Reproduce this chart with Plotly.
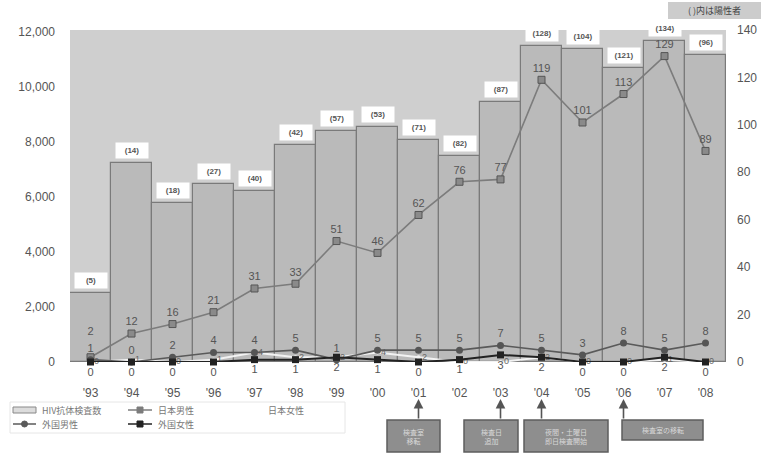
import plotly.graph_objects as go

# ---- data ----
years = ["'93", "'94", "'95", "'96", "'97", "'98", "'99", "'00",
         "'01", "'02", "'03", "'04", "'05", "'06", "'07", "'08"]
tests = [2500, 7240, 5780, 6470, 6220, 7890, 8400, 8550,
         8070, 7490, 9450, 11490, 11380, 10690, 11670, 11160]
positives = [5, 14, 18, 27, 40, 42, 57, 53, 71, 82, 87, 128, 104, 121, 134, 96]
jp_male = [2, 12, 16, 21, 31, 33, 51, 46, 62, 76, 77, 119, 101, 113, 129, 89]
jp_female = [0, 1, 0, 1, 4, 2, 2, 4, 2, 0, 0, 2, 0, 0, 1, 0]
fr_male = [1, 0, 2, 4, 4, 5, 1, 5, 5, 5, 7, 5, 3, 8, 5, 8]
fr_female = [0, 0, 0, 0, 1, 1, 2, 1, 0, 1, 3, 2, 0, 0, 2, 0]
left_ticks = [0, 2000, 4000, 6000, 8000, 10000, 12000]
right_ticks = [0, 20, 40, 60, 80, 100, 120, 140]
events = [("'01", "検査室<br>移転"), ("'03", "検査日<br>追加"),
          ("'04", "夜間・土曜日<br>即日検査開始"), ("'06", "検査室の移転")]

W, H = 762, 454
ML, MR, MT, MB = 70, 36, 30, 92
PW, PH = W - ML - MR, H - MT - MB
FONT = "Liberation Sans, Arial, sans-serif"
JFONT = "Noto Sans CJK JP, sans-serif"


def px(x):
    return (x - ML) / PW


def py(y):
    return (H - MB - y) / PH


fig = go.Figure()

fig.add_trace(go.Bar(
    x=years, y=tests, name="HIV抗体検査数",
    marker=dict(color="#bababa", line=dict(color="#7a7a7a", width=1.2)),
    showlegend=False,
))

# number-of-positives boxes above bars
for yr, t, p in zip(years, tests, positives):
    fig.add_annotation(
        x=yr, y=t, xref="x", yref="y", text=f"<b>({p})</b>", showarrow=False,
        yanchor="bottom", yshift=4, bgcolor="white", borderpad=3,
        width=26, font=dict(family=FONT, size=8, color="#555"),
    )

# Japanese-male labels; the first one is lifted a line so it clears the
# foreign-male label right under it
jm_text = [str(v) for v in jp_male]
jm_text[0] = jm_text[0] + "<br> "
fig.add_trace(go.Scatter(
    x=years, y=jp_male, yaxis="y2", mode="lines+markers+text",
    text=jm_text, textposition="top center",
    textfont=dict(family=FONT, size=11, color="#555"),
    line=dict(color="#7c7c7c", width=1.6),
    marker=dict(symbol="square", size=7, color="#8a8a8a",
                line=dict(color="#555", width=1)),
    cliponaxis=False, showlegend=False,
))

fig.add_trace(go.Scatter(
    x=years, y=jp_female, yaxis="y2", mode="lines+markers+text",
    text=[str(v) for v in jp_female], textposition="middle right",
    textfont=dict(family=FONT, size=9, color="#666"),
    line=dict(color="#f2f2f2", width=2),
    marker=dict(symbol="circle", size=4, color="#f2f2f2"),
    cliponaxis=False, showlegend=False,
))

fig.add_trace(go.Scatter(
    x=years, y=fr_male, yaxis="y2", mode="lines+markers+text",
    text=[str(v) for v in fr_male], textposition="top center",
    textfont=dict(family=FONT, size=11, color="#555"),
    line=dict(color="#5a5a5a", width=1.6),
    marker=dict(symbol="circle", size=7, color="#555"),
    cliponaxis=False, showlegend=False,
))

fig.add_trace(go.Scatter(
    x=years, y=fr_female, yaxis="y2", mode="lines+markers+text",
    text=[str(v) for v in fr_female], textposition="bottom center",
    textfont=dict(family=FONT, size=11, color="#555"),
    line=dict(color="#222", width=2),
    marker=dict(symbol="square", size=7, color="#222"),
    cliponaxis=False, showlegend=False,
))

shapes = []
annots = []

# legend
shapes.append(dict(type="rect", xref="paper", yref="paper",
                   x0=px(10), x1=px(345), y0=py(433), y1=py(402),
                   line=dict(color="#e6e6e6", width=1), fillcolor="white",
                   layer="below"))
shapes.append(dict(type="rect", xref="paper", yref="paper",
                   x0=px(13), x1=px(36), y0=py(413), y1=py(407),
                   line=dict(color="#888", width=1), fillcolor="#dcdcdc"))
leg_lines = [(128, 152, 410, "#7c7c7c", "square"),
             (13, 36, 424, "#5a5a5a", "circle"),
             (128, 152, 424, "#222", "square")]
for x0, x1, y, c, sym in leg_lines:
    shapes.append(dict(type="line", xref="paper", yref="paper",
                       x0=px(x0), x1=px(x1), y0=py(y), y1=py(y),
                       line=dict(color=c, width=1.5)))
    shapes.append(dict(type="circle" if sym == "circle" else "rect",
                       xref="paper", yref="paper",
                       x0=px((x0 + x1) / 2 - 3), x1=px((x0 + x1) / 2 + 3),
                       y0=py(y + 3), y1=py(y - 3),
                       line=dict(color=c, width=1), fillcolor=c))
leg_text = [(40, 410, "HIV抗体検査数"), (156, 410, "日本男性"),
            (266, 410, "日本女性"), (40, 424, "外国男性"),
            (156, 424, "外国女性")]
for x, y, t in leg_text:
    annots.append(dict(xref="paper", yref="paper", x=px(x), y=py(y),
                       text=t, showarrow=False, xanchor="left",
                       yanchor="middle",
                       font=dict(family=JFONT, size=9, color="#777")))

# note at top right
shapes.append(dict(type="rect", xref="paper", yref="paper",
                   x0=px(668), x1=px(761), y0=py(19), y1=py(2),
                   line=dict(width=0), fillcolor="#cccccc"))
annots.append(dict(xref="paper", yref="paper", x=px(714.5), y=py(10.5),
                   text="( )内は陽性者", showarrow=False,
                   xanchor="center", yanchor="middle",
                   font=dict(family=JFONT, size=9, color="#444")))

# event boxes with arrows
event_boxes = [(387, 440, 420, 452), (464, 518, 420, 452),
               (524, 608, 420, 452), (622, 703, 420, 440)]
for (yr, label), (bx0, bx1, by0, by1) in zip(events, event_boxes):
    shapes.append(dict(type="rect", xref="paper", yref="paper",
                       x0=px(bx0), x1=px(bx1), y0=py(by1), y1=py(by0),
                       line=dict(color="#5e5e5e", width=1.5),
                       fillcolor="#8e8e8e"))
    annots.append(dict(xref="paper", yref="paper", x=px((bx0 + bx1) / 2),
                       y=py((by0 + by1) / 2), text=label, showarrow=False,
                       xanchor="center", yanchor="middle",
                       font=dict(family=JFONT, size=7, color="#d8d8d8")))
    annots.append(dict(xref="x", yref="paper", x=yr, y=py(399), text="",
                       showarrow=True, arrowhead=2, arrowsize=1.2,
                       arrowwidth=1.6, arrowcolor="#555",
                       ax=0, ay=21, axref="pixel", ayref="pixel"))

fig.update_layout(
    width=W, height=H,
    margin=dict(l=ML, r=MR, t=MT, b=MB, autoexpand=False),
    paper_bgcolor="white", plot_bgcolor="#cfcfcf",
    bargap=0, showlegend=False,
    font=dict(family=FONT, color="#555"),
    xaxis=dict(type="category", range=[-0.5, 15.5], automargin=False,
               showgrid=False, showline=False,
               ticks="", tickfont=dict(family=FONT, size=12, color="#555"),
               ticklabelstandoff=22),
    yaxis=dict(range=[0, 12080], tickvals=left_ticks, automargin=False,
               ticktext=[f"{v:,}" for v in left_ticks],
               showgrid=False, zeroline=False, showline=False, ticks="",
               tickfont=dict(family=FONT, size=12, color="#555"),
               ticklabelstandoff=14),
    yaxis2=dict(range=[0, 140], tickvals=right_ticks, overlaying="y",
                side="right", showgrid=False, zeroline=False,
                showline=False, ticks="", automargin=False,
                tickfont=dict(family=FONT, size=12, color="#555"),
                ticklabelstandoff=10),
    shapes=shapes, annotations=fig.layout.annotations + tuple(annots),
)

fig.write_html("out.html")
